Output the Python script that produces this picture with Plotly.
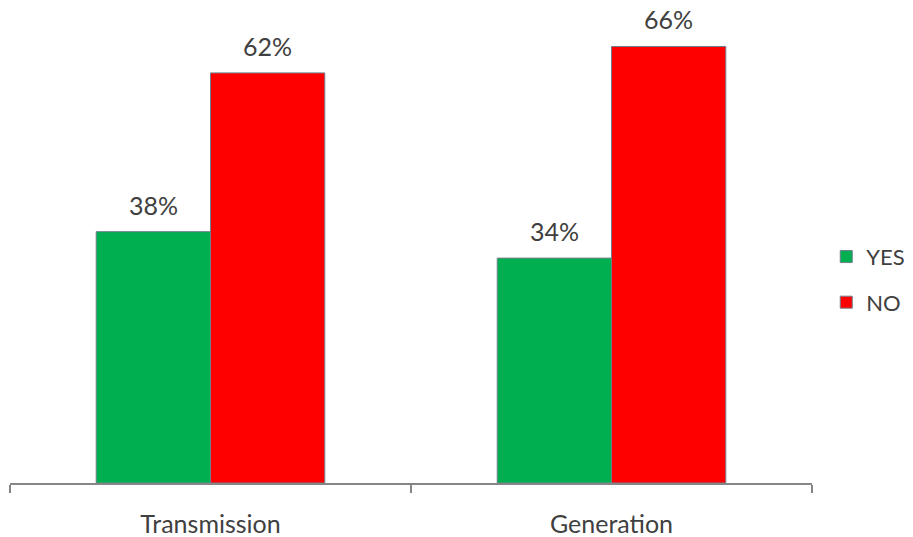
import plotly.graph_objects as go

categories = ["Transmission", "Generation"]
yes_values = [0.38, 0.34]
no_values = [0.62, 0.66]
series_names = ["YES", "NO"]
series_colors = ["#00B050", "#FF0000"]

FONT = "Lato, Calibri, Carlito, sans-serif"
TXT = "#404040"
FS = 25

fig = go.Figure()
for name, vals, col in zip(series_names, [yes_values, no_values], series_colors):
    fig.add_trace(go.Bar(
        x=categories, y=vals, name=name, legendgroup=name,
        marker=dict(color=col, line=dict(color="#6f7f8f", width=1)),
    ))

# value labels above bars
for i, (name, vals) in enumerate(zip(series_names, [yes_values, no_values])):
    shift = -57 if i == 0 else 57
    for c, v in zip(categories, vals):
        fig.add_annotation(x=c, y=v, text=f"{round(v*100)}%", showarrow=False,
                           xshift=shift, yshift=10, yanchor="bottom",
                           font=dict(family=FONT, size=FS, color=TXT))

fig.update_layout(
    width=913, height=537,
    margin=dict(l=10, r=101, t=20, b=54, autoexpand=False),
    paper_bgcolor="white", plot_bgcolor="white",
    barmode="group", bargap=0.43, bargroupgap=0,
    font=dict(family=FONT, size=FS, color=TXT),
    legend=dict(xref="container", yref="container", x=0.905, y=0.479,
                xanchor="left", yanchor="middle",
                font=dict(family=FONT, size=22, color=TXT),
                tracegroupgap=14, itemwidth=30),
    showlegend=True,
)
fig.update_xaxes(showline=True, linecolor="#868686", linewidth=1.5,
                 ticks="outside", tickson="boundaries", ticklen=8,
                 tickcolor="#868686", tickwidth=1.5, automargin=False,
                 ticklabelstandoff=18,
                 tickfont=dict(family=FONT, size=FS, color=TXT))
fig.update_yaxes(range=[0, 0.70], visible=False, showgrid=False, zeroline=False)

fig.write_html("out.html", config={"displayModeBar": False},
               post_script="document.body.style.margin='0';")
